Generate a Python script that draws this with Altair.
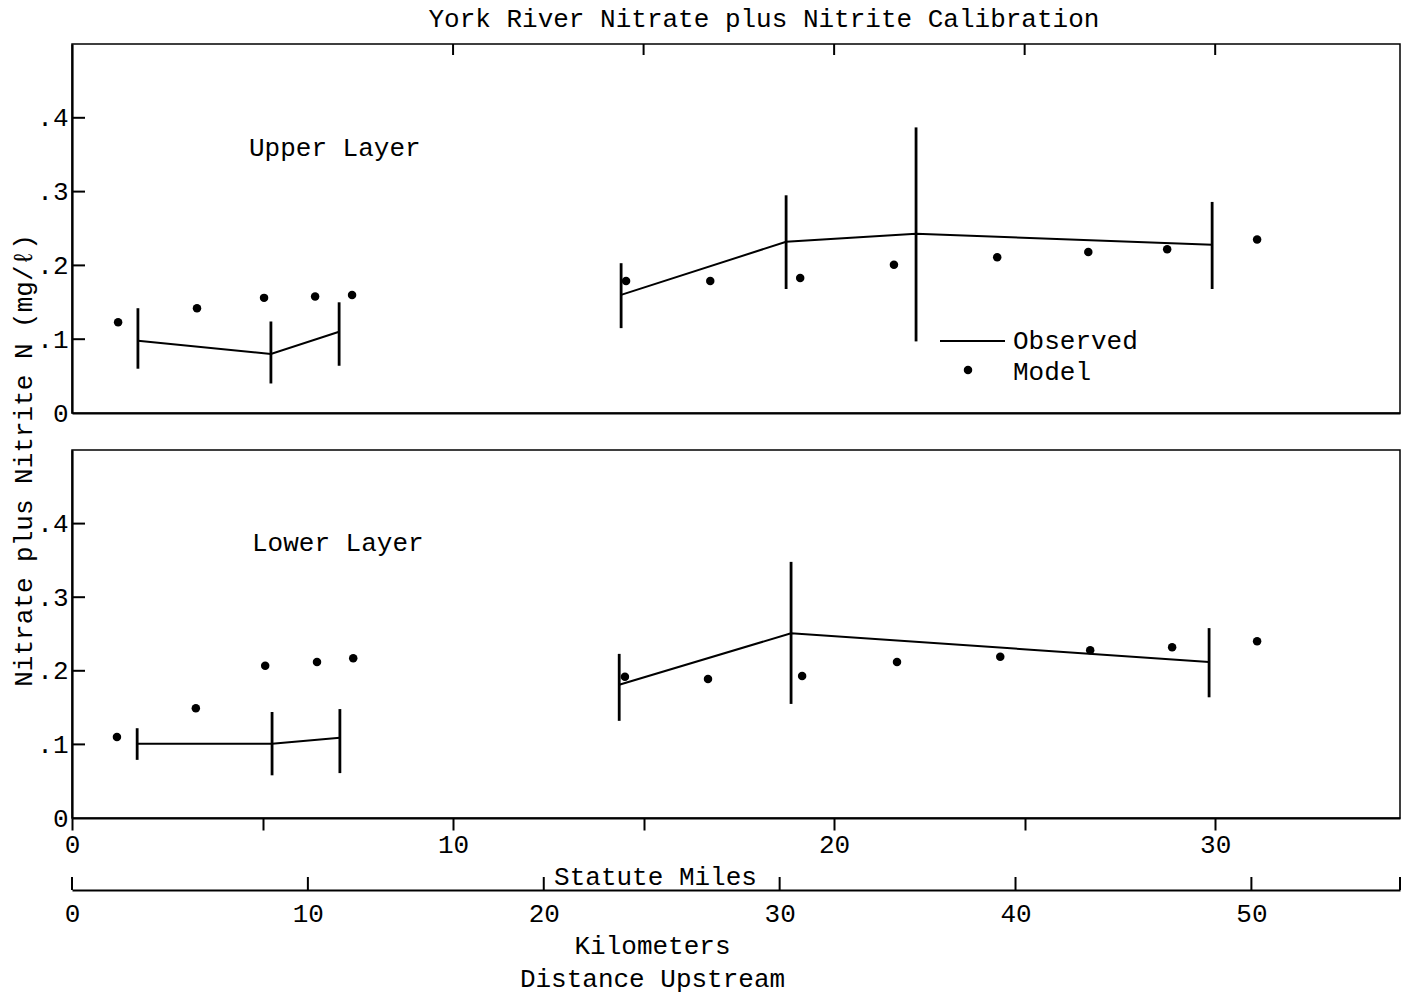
import altair as alt
import pandas as pd

FONT = "Liberation Mono"
FS = 26

# ---------------- data ----------------
# Upper layer, observed (line vertex, error bar low / high), miles upstream
upper_obs_mi = [1.73, 5.22, 7.01, 14.41, 18.74, 22.15, 29.92]
upper_obs_val = [0.098, 0.080, 0.110, 0.160, 0.232, 0.243, 0.228]
upper_obs_lo = [0.060, 0.040, 0.064, 0.115, 0.168, 0.097, 0.168]
upper_obs_hi = [0.142, 0.124, 0.150, 0.203, 0.295, 0.387, 0.286]
upper_obs_seg = [1, 1, 1, 2, 2, 2, 2]

# Upper layer, model
upper_model_mi = [1.21, 3.28, 5.04, 6.38, 7.35, 14.54, 16.75, 19.11, 21.57, 24.28, 26.67, 28.74, 31.10]
upper_model_val = [0.123, 0.142, 0.156, 0.158, 0.160, 0.179, 0.179, 0.183, 0.201, 0.211, 0.218, 0.222, 0.235]

# Lower layer, observed
lower_obs_mi = [1.71, 5.25, 7.03, 14.36, 18.87, 29.84]
lower_obs_val = [0.101, 0.101, 0.109, 0.181, 0.251, 0.212]
lower_obs_lo = [0.079, 0.058, 0.061, 0.132, 0.155, 0.164]
lower_obs_hi = [0.122, 0.144, 0.148, 0.223, 0.348, 0.258]
lower_obs_seg = [1, 1, 1, 2, 2, 2]

# Lower layer, model
lower_model_mi = [1.18, 3.25, 5.07, 6.43, 7.38, 14.51, 16.69, 19.16, 21.65, 24.36, 26.72, 28.87, 31.10]
lower_model_val = [0.110, 0.149, 0.207, 0.212, 0.217, 0.192, 0.189, 0.193, 0.212, 0.219, 0.228, 0.232, 0.240]

# axes
mile_max = 34.85
mile_ticks = [0, 5, 10, 15, 20, 25, 30]
top_mile_ticks = [10, 15, 20, 25, 30]
y_ticks = [0.1, 0.2, 0.3, 0.4]
y_labels = [0, 0.1, 0.2, 0.3, 0.4]
km_max = 56.3
km_labels = [0, 10, 20, 30, 40, 50]
km_ticks = [0, 10, 20, 30, 40, 50, km_max]

title_text = "York River Nitrate plus Nitrite Calibration"
y_title = "Nitrate plus Nitrite N (mg/\u2113)"
panel_names = ["Upper Layer", "Lower Layer"]
legend_names = ["Observed", "Model"]

W = 1328
H_UP = 369
H_LO = 368

xscale = alt.Scale(domain=[0, mile_max], nice=False, zero=False)
yscale = alt.Scale(domain=[0, 0.5], nice=False)
ylab_expr = "datum.value == 0 ? '0' : replace(format(datum.value, '.1f'), '0.', '.')"


def panel(obs_mi, obs_val, obs_lo, obs_hi, obs_seg, mod_mi, mod_val, name, name_pos,
          x_axis, y_axis, top_ticks, legend):
    obs = pd.DataFrame({"mi": obs_mi, "v": obs_val, "lo": obs_lo, "hi": obs_hi, "seg": obs_seg})
    mod = pd.DataFrame({"mi": mod_mi, "v": mod_val})
    base_x = alt.X("mi:Q", scale=xscale, axis=x_axis)
    base_y = alt.Y("v:Q", scale=yscale, axis=y_axis)

    line = alt.Chart(obs).mark_line(color="black", strokeWidth=2).encode(
        x=base_x, y=base_y, detail="seg:N")
    bars = alt.Chart(obs).mark_rule(color="black", strokeWidth=2.8).encode(
        x="mi:Q", y="lo:Q", y2="hi:Q")
    dots = alt.Chart(mod).mark_circle(color="black", opacity=1, size=72).encode(
        x="mi:Q", y="v:Q")
    yt = alt.Chart(pd.DataFrame({"v": y_ticks})).mark_rule(color="black", strokeWidth=2).encode(
        y="v:Q", x=alt.value(0), x2=alt.value(13))
    label = alt.Chart(pd.DataFrame({"t": [name]})).mark_text(
        align="left", baseline="middle", font=FONT, fontSize=FS, color="black").encode(
        text="t:N", x=alt.value(name_pos[0]), y=alt.value(name_pos[1]))
    layers = [line, bars, dots, yt, label]
    if top_ticks:
        tt = alt.Chart(pd.DataFrame({"mi": top_ticks})).mark_rule(color="black", strokeWidth=2).encode(
            x="mi:Q", y=alt.value(0), y2=alt.value(11))
        layers.append(tt)
    if legend:
        lg_line = alt.Chart(pd.DataFrame({"t": [legend_names[0]]})).mark_rule(
            color="black", strokeWidth=2).encode(
            x=alt.value(868), x2=alt.value(933), y=alt.value(297))
        lg_dot = alt.Chart(pd.DataFrame({"t": [legend_names[1]]})).mark_circle(
            color="black", opacity=1, size=72).encode(x=alt.value(896), y=alt.value(326))
        lg_txt = alt.Chart(pd.DataFrame({"t": legend_names, "yy": [297, 328]})).mark_text(
            align="left", baseline="middle", font=FONT, fontSize=FS, color="black").encode(
            text="t:N", x=alt.value(941), y=alt.Y("yy:Q", scale=None))
        layers += [lg_line, lg_dot, lg_txt]
    return alt.layer(*layers)


up_y_axis = alt.Axis(values=y_labels, labelExpr=ylab_expr, ticks=False, labelPadding=4,
                     title=y_title, titleY=416, titlePadding=0)
up_x_axis = alt.Axis(labels=False, ticks=False, title="", domain=True)
lo_y_axis = alt.Axis(values=y_labels, labelExpr=ylab_expr, ticks=False, labelPadding=4, title="")
lo_x_axis = alt.Axis(values=mile_ticks,
                     labelExpr="datum.value % 10 == 0 ? datum.label : ''",
                     tickSize=12, tickWidth=2, labelPadding=1, labelFlush=False,
                     title="Statute Miles", titleX=583, titleY=58, titleBaseline="middle",
                     titleAlign="center")

upper = panel(upper_obs_mi, upper_obs_val, upper_obs_lo, upper_obs_hi, upper_obs_seg,
              upper_model_mi, upper_model_val, panel_names[0], (177, 104),
              up_x_axis, up_y_axis, top_mile_ticks, True).properties(width=W, height=H_UP)
lower = panel(lower_obs_mi, lower_obs_val, lower_obs_lo, lower_obs_hi, lower_obs_seg,
              lower_model_mi, lower_model_val, panel_names[1], (180, 93),
              lo_x_axis, lo_y_axis, None, False).properties(width=W, height=H_LO)

km = alt.Chart(pd.DataFrame({"km": km_ticks})).mark_rule(color="black", strokeWidth=2).encode(
    x=alt.X("km:Q", scale=alt.Scale(domain=[0, km_max], nice=False),
            axis=alt.Axis(values=km_labels, ticks=False, domain=True, labelPadding=10,
                          labelFlush=False,
                          title=["Kilometers", "Distance Upstream"], titleX=580,
                          titleLineHeight=33, titlePadding=6, titleAlign="center")),
    y=alt.value(22), y2=alt.value(35)
).properties(width=W, height=35, view=alt.ViewBackground(stroke="transparent"))

chart = alt.vconcat(upper, lower, km, spacing=37, bounds="flush").properties(
    title=alt.TitleParams(title_text, font=FONT, fontSize=FS, fontWeight="normal",
                          color="black", anchor="middle", offset=10, dx=58),
    padding={"left": 10, "top": 6, "right": 0, "bottom": 5},
    background="white",
).configure_view(stroke="black", strokeWidth=1.5).configure_axis(
    grid=False, domainColor="black", domainWidth=2.2, tickColor="black",
    labelFont=FONT, labelFontSize=FS, labelColor="black",
    titleFont=FONT, titleFontSize=FS, titleFontWeight="normal", titleColor="black",
)

chart.save("out.html", embed_options={"renderer": "svg", "actions": False})
